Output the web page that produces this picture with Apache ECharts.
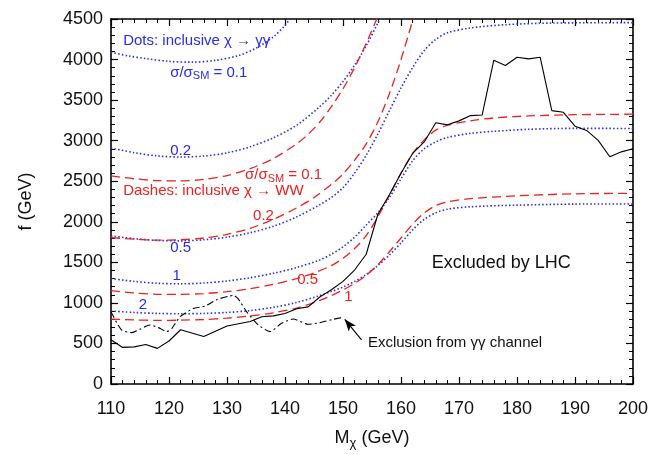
<!DOCTYPE html>
<html>
<head>
<meta charset="utf-8">
<script src="https://cdn.jsdelivr.net/npm/echarts@6/dist/echarts.min.js"></script>
<style>
  html, body { margin: 0; padding: 0; background: #fff; }
  #chart { width: 655px; height: 455px; }
</style>
</head>
<body>
<div id="chart"></div>
<script>
// axis ranges
const xRange = [110, 200];
const yRange = [0, 4500];

// LHC exclusion (solid)
const lhcExcl = [
  [110, 545], [112, 451], [114, 458], [116, 488], [118, 439], [120, 530],
  [122, 669], [126, 585], [130, 716], [134, 770], [136, 830], [138, 840],
  [140, 870], [142, 927], [144, 951], [146, 1073], [148, 1162], [150, 1265],
  [152, 1405], [154, 1600], [156, 2090], [158, 2333], [160, 2598], [162, 2842],
  [164, 2984], [166, 3220], [168, 3195], [170, 3244], [172, 3309], [174, 3317],
  [176, 3992], [178, 3927], [180, 4028], [182, 4008], [184, 4028], [186, 3370],
  [188, 3350], [190, 3179], [192, 3126], [194, 3004], [196, 2801], [198, 2862],
  [200, 2900]
];

// exclusion from gamma gamma channel (dash-dot)
const ggExcl = [
  [110, 890], [111.8, 667], [113.6, 634], [115, 675], [116.7, 728], [118.2, 695],
  [119.6, 646], [120.5, 687], [121.9, 829], [124.2, 931], [126.2, 960],
  [128.2, 1040], [130.2, 1081], [131.1, 1093], [131.9, 1052], [133.4, 890],
  [135.4, 728], [137.4, 646], [139.4, 748], [141.4, 801], [144, 736],
  [146, 756], [148.3, 797], [149.9, 821]
];

// dotted: inclusive chi -> gamma gamma
const gg01 = [
  [110, 4090], [113, 4045], [116, 4012], [120, 3978], [124, 3968], [128, 3990],
  [132, 4050], [135, 4140], [138, 4280], [140, 4420], [141, 4520]
];
const gg02 = [
  [110, 2910], [114, 2852], [118, 2812], [122, 2798], [126, 2810], [130, 2850],
  [134, 2925], [138, 3035], [142, 3190], [146, 3420], [148, 3560], [150, 3730],
  [152, 3930], [154, 4170], [156, 4450], [156.5, 4530]
];
const gg05 = [
  [110, 1825], [114, 1792], [118, 1770], [122, 1765], [126, 1778], [130, 1810],
  [134, 1865], [138, 1945], [142, 2060], [146, 2210], [148, 2300], [150, 2420],
  [152, 2600], [154, 2820], [156, 3080], [158, 3370], [160, 3650], [162, 3900],
  [164, 4110], [166, 4250], [168, 4330], [172, 4390], [178, 4430], [186, 4450],
  [200, 4455]
];
const gg1 = [
  [110, 1300], [114, 1265], [118, 1242], [122, 1235], [126, 1245], [130, 1270],
  [134, 1310], [138, 1365], [142, 1435], [146, 1530], [148, 1600], [150, 1690],
  [152, 1810], [154, 1960], [156, 2110], [158, 2300], [160, 2530], [162, 2750],
  [164, 2900], [166, 2985], [168, 3040], [172, 3090], [176, 3115], [182, 3140],
  [190, 3152], [200, 3150]
];
const gg2 = [
  [110, 900], [114, 882], [118, 870], [122, 866], [126, 870], [130, 882],
  [134, 905], [138, 945], [142, 1005], [146, 1090], [148, 1140], [150, 1195],
  [152, 1265], [154, 1350], [156, 1460], [158, 1590], [160, 1740], [162, 1900],
  [164, 2030], [166, 2110], [168, 2155], [172, 2185], [180, 2205], [190, 2218],
  [200, 2220]
];

// dashed: inclusive chi -> WW
const ww01 = [
  [110, 2565], [114, 2530], [118, 2508], [122, 2505], [126, 2522], [130, 2570],
  [134, 2655], [138, 2780], [142, 2960], [144, 3080], [146, 3230], [148, 3420],
  [150, 3640], [152, 3900], [154, 4200], [156, 4530]
];
const ww02 = [
  [110, 1805], [114, 1785], [118, 1773], [122, 1778], [126, 1800], [130, 1845],
  [134, 1920], [138, 2030], [142, 2170], [145, 2300], [148, 2460], [150, 2590],
  [152, 2760], [154, 2960], [156, 3230], [158, 3580], [160, 4000], [162, 4480],
  [162.3, 4540]
];
const ww05 = [
  [110, 1150], [114, 1122], [118, 1106], [122, 1105], [126, 1115], [130, 1138],
  [134, 1175], [138, 1228], [142, 1300], [145, 1370], [148, 1460], [150, 1550],
  [152, 1670], [154, 1830], [156, 2060], [158, 2330], [160, 2600], [162, 2840],
  [164, 3010], [166, 3130], [168, 3190], [172, 3245], [176, 3280], [182, 3305],
  [190, 3320], [200, 3326]
];
const ww1 = [
  [110, 800], [114, 790], [118, 785], [122, 787], [126, 795], [130, 812],
  [134, 838], [138, 878], [142, 935], [146, 1030], [148, 1090], [150, 1160],
  [152, 1240], [154, 1340], [156, 1470], [158, 1630], [160, 1800], [162, 1970],
  [164, 2110], [166, 2200], [168, 2245], [172, 2285], [180, 2320], [190, 2345],
  [200, 2350]
];

// arrow of the gamma gamma annotation: tail, head
const arrowTail = [153.2, 545];
const arrowHead = [150.3, 797];

const BLUE = "#2a2af0";
const RED = "#ee2020";
const FONT = "'Liberation Sans', Arial, sans-serif";

// text annotations: [data x, data y, text, colour, size]
const notes = [
  [112.1, 4232, "Dots: inclusive χ → γγ", BLUE, 15],
  [120.2, 3841, "sig:0.1", BLUE, 15],
  [120.2, 2878, "0.2", BLUE, 15],
  [120.2, 1683, "0.5", BLUE, 15],
  [120.6, 1329, "1", BLUE, 15],
  [114.8, 976, "2", BLUE, 15],
  [133.1, 2573, "sig:0.1", RED, 15],
  [112.1, 2378, "Dashes: inclusive χ → WW", RED, 15],
  [134.5, 2073, "0.2", RED, 15],
  [142.1, 1280, "0.5", RED, 15],
  [150.2, 1073, "1", RED, 15],
  [165.3, 1488, "Excluded by LHC", "#111", 18],
  [154.3, 512, "Exclusion from γγ channel", "#111", 15]
];

function axisCommon(show) {
  return {
    axisLine: { show: true, onZero: false, lineStyle: { color: "#000", width: 1.6 } },
    axisTick: { show: true, inside: true, length: 7, lineStyle: { color: "#000", width: 1.2 } },
    minorTick: { show: true, splitNumber: 5, length: 4, lineStyle: { color: "#000", width: 1 } },
    splitLine: { show: false },
    axisLabel: {
      show: show, color: "#111", fontFamily: FONT, fontSize: 18,
      formatter: (v) => String(v)
    }
  };
}

function curve(data, color, type, width, smooth) {
  return {
    type: "line",
    data: data,
    showSymbol: false,
    smooth: smooth,
    silent: true,
    lineStyle: { color: color, type: type, width: width }
  };
}

function noteText(n, px) {
  const color = n[3];
  const size = n[4];
  let text = n[2];
  const rich = {
    t: { fill: color, font: `${size}px ${FONT}` },
    s: { fill: color, font: `${size - 4}px ${FONT}`, padding: [8, 0, 0, 0] }
  };
  if (text.startsWith("sig:")) {
    text = `{t|σ/σ}{s|SM}{t| = ${text.slice(4)}}`;
  } else {
    text = `{t|${text}}`;
  }
  return {
    type: "text",
    x: px[0],
    y: px[1],
    silent: true,
    style: { text: text, rich: rich, textAlign: "left", textVerticalAlign: "middle" }
  };
}

const chart = echarts.init(document.getElementById("chart"), null, { renderer: "canvas" });

const option = {
  animation: false,
  backgroundColor: "#fff",
  grid: { left: 111, right: 22, top: 19, bottom: 67 },
  xAxis: [
    Object.assign(axisCommon(true), {
      type: "value", min: xRange[0], max: xRange[1], interval: 10,
      position: "bottom",
      name: "{a|M}{s|χ}{a| (GeV)}",
      nameLocation: "middle",
      nameGap: 42,
      nameTextStyle: {
        rich: {
          a: { fontFamily: FONT, fontSize: 18, color: "#111" },
          s: { fontFamily: FONT, fontSize: 13, color: "#111", padding: [11, 0, 0, 0] }
        }
      }
    }),
    Object.assign(axisCommon(false), {
      type: "value", min: xRange[0], max: xRange[1], interval: 10, position: "top"
    })
  ],
  yAxis: [
    Object.assign(axisCommon(true), {
      type: "value", min: yRange[0], max: yRange[1], interval: 500,
      position: "left",
      name: "f (GeV)",
      nameLocation: "middle",
      nameGap: 76,
      nameTextStyle: { fontFamily: FONT, fontSize: 18, color: "#111" }
    }),
    Object.assign(axisCommon(false), {
      type: "value", min: yRange[0], max: yRange[1], interval: 500, position: "right"
    })
  ],
  series: [
    curve(gg01, BLUE, [1.5, 2.2], 1.6, 0.3),
    curve(gg02, BLUE, [1.5, 2.2], 1.6, 0.3),
    curve(gg05, BLUE, [1.5, 2.2], 1.6, 0.3),
    curve(gg1, BLUE, [1.5, 2.2], 1.6, 0.3),
    curve(gg2, BLUE, [1.5, 2.2], 1.6, 0.3),
    curve(ww01, RED, [9, 5], 1.3, 0.3),
    curve(ww02, RED, [9, 5], 1.3, 0.3),
    curve(ww05, RED, [9, 5], 1.3, 0.3),
    curve(ww1, RED, [9, 5], 1.3, 0.3),
    curve(lhcExcl, "#000", "solid", 1.1, false),
    Object.assign(curve(ggExcl, "#000", [7, 3, 2, 3], 1.1, 0.2), {
      markLine: {
        silent: true,
        symbol: ["none", "arrow"],
        symbolSize: [7, 12],
        label: { show: false },
        lineStyle: { color: "#000", type: "solid", width: 1.1 },
        data: [[{ coord: arrowTail }, { coord: arrowHead }]]
      }
    })
  ]
};

chart.setOption(option);

// also shift the x tick labels down like in the reference
chart.setOption({ xAxis: [{ axisLabel: { margin: 16 } }, {}] });

chart.setOption({
  graphic: notes.map((n) => noteText(n, chart.convertToPixel({ gridIndex: 0 }, [n[0], n[1]])))
});
</script>
</body>
</html>
